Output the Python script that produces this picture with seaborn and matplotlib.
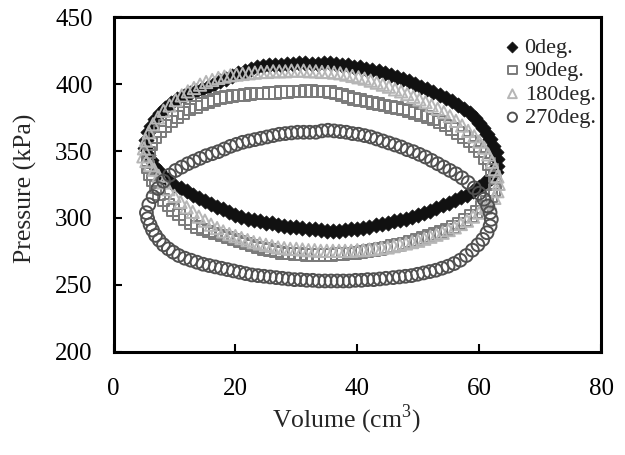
import matplotlib
matplotlib.use("Agg")
import matplotlib.pyplot as plt
import seaborn as sns
import pandas as pd

# (volume cm3, pressure kPa), going round each loop
pv_0deg = [
    (5.2, 352), (5.3, 358), (5.6, 364), (6.1, 369), (6.8, 374), (7.6, 378), (8.5, 382),
    (9.5, 385.5), (10.5, 388.5), (11.5, 391), (12.5, 393), (13.5, 395), (14.5, 396.5),
    (15.5, 398), (16.5, 400), (17.5, 402), (18.5, 404), (19.5, 406), (20.5, 408),
    (21.5, 410), (22.5, 411.5), (23.5, 413), (24.5, 413.5), (25.5, 414), (26.5, 414.5),
    (27.5, 414.5), (28.5, 415), (29.5, 415), (30.5, 415.5), (31.5, 416), (32.5, 415),
    (33.5, 415), (34.5, 415.5), (35.5, 416), (36.5, 415), (37.5, 414.5), (38.5, 414),
    (39.5, 413), (40.5, 412.5), (41.5, 411.5), (42.5, 410.5), (43.5, 409.5), (44.5, 408),
    (45.5, 406.5), (46.5, 405), (47.5, 403.5), (48.5, 402), (49.5, 400), (50.5, 398),
    (51.5, 396), (52.5, 394), (53.5, 392), (54.5, 389.5), (55.5, 387), (56.5, 384),
    (57.5, 381), (58.5, 378), (59.3, 375), (60, 371), (60.7, 367), (61.3, 363),
    (61.8, 359), (62.3, 354), (62.7, 349), (62.9, 344), (63, 339),
    (62.7, 334), (62, 330), (61, 326.5), (60, 323), (59, 320), (58, 317.5), (57, 315.5),
    (56, 313.5), (55, 311.5), (54, 309.5), (53, 307.5), (52, 305.5), (51, 304),
    (50, 302.5), (49, 301), (48, 299.5), (47, 298.5), (46, 297.5), (45, 296.5),
    (44, 295.5), (43, 294.5), (42, 293.5), (41, 292.5), (40, 292), (39, 291.5),
    (38, 291), (37, 290.5), (36, 290.5), (35, 290.5), (34, 291), (33, 291.5), (32, 292),
    (31, 292.5), (30, 293), (29, 293.5), (28, 294), (27, 295), (26, 296), (25, 296.5),
    (24, 297.5), (23, 298.5), (22, 299.5), (21, 301), (20, 302.5), (19, 304.5),
    (18, 306.5), (17, 308.5), (16, 310.5), (15, 312.5), (14, 315), (13, 317.5),
    (12, 320), (11, 322.5), (10, 325), (9, 328), (8.2, 331.5), (7.4, 335), (6.7, 339),
    (6.1, 343), (5.6, 347),
]

pv_90deg = [
    (5.6, 343), (5.8, 349), (6.2, 355), (6.8, 360), (7.6, 364.5), (8.5, 368.5),
    (9.5, 372), (10.5, 375.5), (11.5, 378.5), (12.5, 381), (13.5, 383), (14.5, 385),
    (15.5, 386.5), (16.5, 388), (17.5, 389.5), (18.5, 390.5), (19.5, 391), (20.5, 391.5),
    (21.5, 392), (22.5, 392.5), (23.5, 393), (24.5, 393), (25.5, 393.5), (26.5, 393.5),
    (27.5, 394), (28.5, 394), (29.5, 394.5), (30.5, 394.5), (31.5, 395), (32.5, 395),
    (33.5, 394.5), (34.5, 394.5), (35.5, 394), (36.5, 393), (37.5, 392), (38.5, 390.5),
    (39.5, 389), (40.5, 388), (41.5, 387), (42.5, 386), (43.5, 385), (44.5, 384),
    (45.5, 383), (46.5, 382), (47.5, 381), (48.5, 380), (49.5, 378.5), (50.5, 377),
    (51.5, 375.5), (52.5, 373.5), (53.5, 371.5), (54.5, 369), (55.5, 366.5),
    (56.5, 363.5), (57.5, 360.5), (58.5, 357), (59.3, 353.5), (60.1, 349.5),
    (60.9, 345), (61.6, 340.5), (62.1, 336), (62.5, 331), (62.7, 326),
    (62.5, 321), (62, 316.5), (61.3, 312), (60.5, 308), (59.6, 304.5), (58.7, 301.5),
    (57.7, 298.5), (56.7, 296), (55.7, 293.5), (54.7, 291.5), (53.7, 289.5), (52.7, 288),
    (51.7, 286.5), (50.7, 285), (49.7, 283.5), (48.7, 282.5), (47.7, 281), (46.7, 280),
    (45.7, 279), (44.7, 278), (43.7, 277), (42.7, 276), (41.7, 275.5), (40.7, 274.5),
    (39.7, 274), (38.7, 273.5), (37.7, 273), (36.7, 273), (35.7, 272.5), (34.7, 272.5),
    (33.7, 272.5), (32.7, 272.5), (31.7, 272.5), (30.7, 273), (29.7, 273), (28.7, 273.5),
    (27.7, 274), (26.7, 275), (25.7, 276), (24.7, 277), (23.7, 278), (22.7, 279.5),
    (21.7, 281), (20.7, 282.5), (19.7, 284), (18.7, 285.5), (17.7, 287), (16.7, 288.5),
    (15.7, 290), (14.7, 291.5), (13.7, 293.5), (12.7, 296), (11.7, 299), (10.7, 302.5),
    (9.8, 306), (9, 309.5), (8.2, 313.5), (7.5, 318), (6.9, 323), (6.4, 328), (6, 333),
    (5.7, 338),
]

pv_180deg = [
    (4.9, 346), (5.0, 352), (5.3, 358), (5.8, 364), (6.5, 370), (7.3, 375), (8.2, 380),
    (9.2, 384), (10.2, 388), (11.2, 391.5), (12.2, 394.5), (13.2, 397), (14.2, 399.5),
    (15.2, 401.5), (16.2, 403), (17.2, 404.5), (18.2, 405.5), (19.2, 406.5), (20.2, 407),
    (21.2, 407.5), (22.2, 408), (23.2, 408.5), (24.2, 409), (25.2, 409), (26.2, 409.5),
    (27.2, 409.5), (28.2, 409.5), (29.2, 410), (30.2, 410), (31.2, 410), (32.2, 409.5),
    (33.2, 409.5), (34.2, 409), (35.2, 409), (36.2, 408.5), (37.2, 408), (38.2, 407),
    (39.2, 406), (40.2, 405), (41.2, 404), (42.2, 402.5), (43.2, 401), (44.2, 399.5),
    (45.2, 398), (46.2, 396), (47.2, 394.5), (48.2, 392.5), (49.2, 390.5), (50.2, 388.5),
    (51.2, 386.5), (52.2, 384), (53.2, 381.5), (54.2, 379), (55.2, 376), (56.2, 372.5),
    (57.2, 369), (58.2, 365), (59.2, 361), (60, 357), (60.8, 352.5), (61.5, 347.5),
    (62.1, 342), (62.6, 336.5), (63, 331), (63.2, 325.5),
    (63, 320), (62.5, 315), (61.8, 311), (61, 307.5), (60, 304), (59, 301), (58, 298),
    (57, 295.5), (56, 293), (55, 291), (54, 289), (53, 287.5), (52, 286), (51, 284.5),
    (50, 283), (49, 282), (48, 281), (47, 280), (46, 279), (45, 278), (44, 277.5),
    (43, 277), (42, 276.5), (41, 276), (40, 276), (39, 275.5), (38, 275.5), (37, 275.5),
    (36, 275.5), (35, 275.5), (34, 275.5), (33, 276), (32, 276), (31, 276.5), (30, 277),
    (29, 277), (28, 277.5), (27, 278), (26, 279), (25, 280), (24, 281), (23, 282),
    (22, 283.5), (21, 285), (20, 286.5), (19, 288), (18, 290), (17, 292.5), (16, 295),
    (15, 298), (14, 301), (13, 304.5), (12, 308), (11, 312), (10, 316.5), (9, 321.5),
    (8.2, 326.5), (7.4, 331.5), (6.7, 336), (6, 339.5), (5.4, 342.5),
]

pv_270deg = [
    (5.4, 304), (5.8, 310), (6.5, 316), (7.3, 322), (8.2, 327.5), (9.2, 332),
    (10.2, 335.5), (11.2, 338), (12.2, 340.5), (13.2, 342.5), (14.2, 344.5),
    (15.2, 346.5), (16.2, 348), (17.2, 349.5), (18.2, 351.5), (19.2, 353.5), (20.2, 355),
    (21.2, 356.5), (22.2, 357.5), (23.2, 358.5), (24.2, 359.5), (25.2, 360.5),
    (26.2, 361.5), (27.2, 362.5), (28.2, 363), (29.2, 363.5), (30.2, 364), (31.2, 364),
    (32.2, 364), (33.2, 364), (34.2, 365), (35.2, 365.5), (36.2, 365), (37.2, 364.5),
    (38.2, 364), (39.2, 363), (40.2, 362.5), (41.2, 361.5), (42.2, 360.5), (43.2, 359),
    (44.2, 357.5), (45.2, 356), (46.2, 354.5), (47.2, 353), (48.2, 351), (49.2, 349.5),
    (50.2, 347.5), (51.2, 345.5), (52.2, 343), (53.2, 340.5), (54.2, 338), (55.2, 335.5),
    (56.2, 333), (57.2, 330), (58.2, 326.5), (59.2, 322.5), (60, 318.5), (60.8, 314),
    (61.4, 309), (61.8, 304), (62, 299),
    (61.8, 294), (61.3, 289), (60.6, 284), (59.8, 280), (58.9, 276), (57.9, 272),
    (56.9, 268.5), (55.9, 266), (54.9, 264), (53.9, 262.5), (52.9, 261), (51.9, 260),
    (50.9, 259), (49.9, 258), (48.9, 257), (47.9, 256.5), (46.9, 256), (45.9, 255.5),
    (44.7, 255), (43.7, 254.5), (42.7, 254), (41.7, 254), (40.7, 253.5), (39.7, 253.5),
    (38.7, 253), (37.7, 253), (36.7, 253), (35.7, 253), (34.7, 253), (33.7, 253),
    (32.7, 253.5), (31.7, 253.5), (30.7, 254), (29.7, 254), (28.7, 254.5), (27.7, 255),
    (26.7, 255.5), (25.7, 256), (24.7, 256.5), (23.7, 257), (22.7, 257.5), (21.7, 258.5),
    (20.7, 259.5), (19.7, 260.5), (18.7, 261.5), (17.7, 262.5), (16.7, 263.5),
    (15.7, 264.5), (14.7, 265.5), (13.7, 267), (12.7, 268.5), (11.7, 270), (10.7, 272),
    (9.8, 274.5), (9, 277), (8.2, 280), (7.5, 283.5), (6.9, 287), (6.4, 291), (6, 295),
    (5.6, 299.5),
]

series = ["0deg.", "90deg.", "180deg.", "270deg."]
loops = [pv_0deg, pv_90deg, pv_180deg, pv_270deg]
markers = ["D", "s", "^", "o"]
colors = ["#111111", "#7a7a7a", "#b6b6b6", "#505050"]
sizes = [60, 70, 78, 85]

frames = []
for name, pts in zip(series, loops):
    d = pd.DataFrame(pts, columns=["Volume", "Pressure"])
    d["Phase"] = name
    frames.append(d)
df = pd.concat(frames, ignore_index=True)

sns.set_style("ticks")
plt.rcParams["font.family"] = ["Liberation Serif", "DejaVu Serif"]
plt.rcParams["mathtext.fontset"] = "custom"
plt.rcParams["mathtext.rm"] = "Liberation Serif"

fig = plt.figure(figsize=(6.25, 4.55), dpi=100)
ax = fig.add_axes([0.1816, 0.2264, 0.780, 0.7362])

for name, m, c, s in zip(series, markers, colors, sizes):
    sub = df[df["Phase"] == name]
    if m == "D":
        sns.scatterplot(data=sub, x="Volume", y="Pressure", marker=m, s=s,
                        color=c, edgecolor=c, linewidth=0.5, ax=ax, label=name)
    else:
        sns.scatterplot(data=sub, x="Volume", y="Pressure", marker=m, s=s,
                        color=c, facecolor="none", edgecolor=c, linewidth=1.4,
                        ax=ax, label=name)

ax.set_xlim(0, 80)
ax.set_ylim(200, 450)
ax.set_xticks([0, 20, 40, 60, 80])
ax.set_yticks([200, 250, 300, 350, 400, 450])
for sp in ax.spines.values():
    sp.set_linewidth(2.2)
    sp.set_color("black")
ax.tick_params(axis="both", direction="in", length=6, width=1.5, labelsize=18,
               colors="black")
ax.tick_params(axis="x", pad=19)
ax.tick_params(axis="y", pad=15)

ax.set_xlabel("Volume (cm$^{\\mathregular{3}}$)", fontsize=18.5)
ax.set_ylabel("Pressure (kPa)", fontsize=18.5)
ax.xaxis.set_label_coords(0.478, -0.152)
ax.yaxis.set_label_coords(-0.157, 0.49)

ax.legend(loc="upper left", bbox_to_anchor=(0.80, 0.94), frameon=False,
          fontsize=16, handlelength=0.8, handletextpad=0.15, labelspacing=0.13,
          borderpad=0, borderaxespad=0, markerscale=0.72)

fig.savefig("out.png", dpi=100)
